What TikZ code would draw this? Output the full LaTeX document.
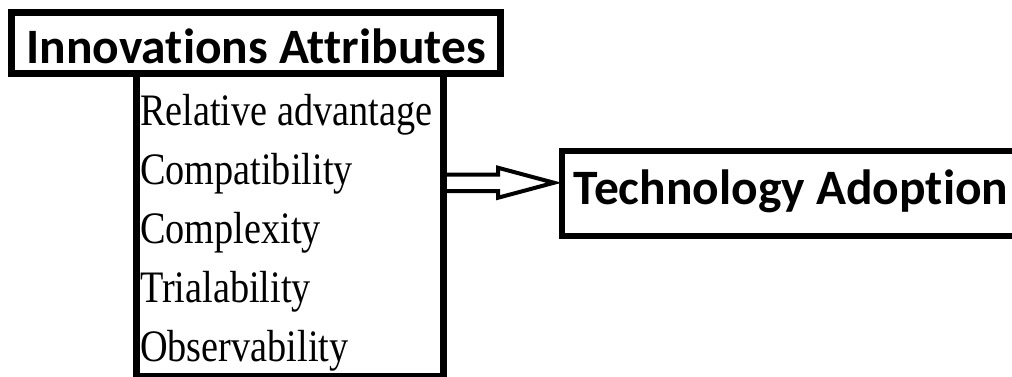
\documentclass[tikz,border=0pt]{standalone}
\usepackage{fontspec}
\newfontfamily\headfont{Carlito}[Ligatures=NoCommon]
\newfontfamily\itemfont{Liberation Serif}[FakeStretch=0.85]

\begin{document}
\begin{tikzpicture}[x=1pt, y=1pt,
		box/.style={draw, line width=6.5pt, inner sep=0pt, outer sep=0pt},
		head/.style={font=\headfont\bfseries\fontsize{49.5}{58}\selectfont},
		item/.style={font=\itemfont\fontsize{45}{59}\selectfont, inner sep=0pt, anchor=base west},
		hollow/.style={line width=4pt, line join=miter}]
	\clip (0,0) rectangle (1012,376);
	
	% list of attributes
	\node[box, minimum width=307pt, minimum height=303pt] (lst) at (290,151) {};
	\foreach \t [count=\i] in {Relative advantage, Compatibility, Complexity, Trialability, Observability}
		\node[item] (item\i) at (140,310-59*\i) {\t};
	
	% title
	\node[box, head, minimum width=489pt, minimum height=61pt, text height=50.5pt, text depth=10.5pt] (attr) at (256,333) {Innovations Attributes};
	
	% outcome, its box runs off the right edge
	\node[head, inner sep=0pt, outer sep=0pt, minimum width=458pt, minimum height=84.5pt, text height=53pt, text depth=31.5pt] (tech) at (791,182.75) {Technology Adoption};
	\draw[line width=6pt] ([xshift=60pt]tech.north east) -| (tech.south west) -- ([xshift=60pt]tech.south east);
	
	\coordinate (tip) at ([xshift=-8pt, yshift=10.5pt]tech.west);
	\coordinate (tail) at (lst.east |- tip);
	\draw[hollow] ([yshift=8.25pt]tail) -- ([xshift=-56pt, yshift=8.25pt]tip) -- ([xshift=-56pt, yshift=15pt]tip) -- (tip)
		-- ([xshift=-56pt, yshift=-15pt]tip) -- ([xshift=-56pt, yshift=-8.25pt]tip) -- ([yshift=-8.25pt]tail);
	
\end{tikzpicture}
\end{document}
